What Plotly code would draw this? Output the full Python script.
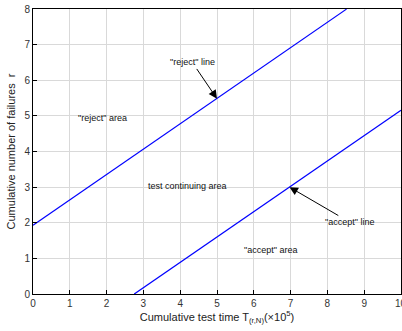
import plotly.graph_objects as go

# Data
slope = 0.712
reject_intercept = 1.93
accept_intercept = -1.96
x_reject = [0, 8.52]
x_accept = [2.75, 10]
y_reject = [reject_intercept + slope * x for x in x_reject]
y_accept = [accept_intercept + slope * x for x in x_accept]
x_ticks = [0, 1, 2, 3, 4, 5, 6, 7, 8, 9, 10]
y_ticks = [0, 1, 2, 3, 4, 5, 6, 7, 8]

fig = go.Figure()
fig.add_trace(go.Scatter(x=x_reject, y=y_reject, mode="lines",
                         line=dict(color="#0000ff", width=1.2), showlegend=False))
fig.add_trace(go.Scatter(x=x_accept, y=y_accept, mode="lines",
                         line=dict(color="#0000ff", width=1.2), showlegend=False))

font_ann = dict(family="Liberation Sans, Arial", size=9, color="#111")
texts = [
    ('"reject" area', 1.88, 4.95),
    ('test continuing area', 4.2, 3.03),
    ('"accept" area', 6.45, 1.24),
]
for t, x, y in texts:
    fig.add_annotation(x=x, y=y, text=t, showarrow=False, font=font_ann)

fig.add_annotation(x=5.0, y=5.48, ax=4.33, ay=6.5, axref="x", ayref="y",
                   text='"reject" line', showarrow=True, arrowhead=2, arrowsize=1.7,
                   arrowwidth=1, arrowcolor="black", standoff=0, font=font_ann)
fig.add_annotation(x=6.97, y=3.0, ax=8.6, ay=2.02, axref="x", ayref="y",
                   text='"accept" line', showarrow=True, arrowhead=2, arrowsize=1.7,
                   arrowwidth=1, arrowcolor="black", standoff=0, font=font_ann)

tickfont = dict(family="Liberation Sans, Arial", size=10, color="#333")
# last x tick label (partly cut off at the right edge, as in the reference)
fig.add_annotation(x=10, y=0, xref="x", yref="paper", text="10", showarrow=False,
                   yanchor="top", yshift=-2, font=tickfont)

axis_common = dict(showline=True, linecolor="black", linewidth=1, mirror=True,
                   ticks="inside", ticklen=4, tickcolor="black",
                   showgrid=True, gridcolor="#d9d9d9", gridwidth=1, zeroline=False,
                   tickfont=tickfont)

fig.update_xaxes(range=[0, 10], tickvals=x_ticks, **axis_common,
                 title=dict(text="Cumulative test time T<sub>(r,N)</sub>(×10<sup>5</sup>)",
                            font=dict(family="Liberation Sans, Arial", size=11, color="#222"),
                            standoff=4))
fig.update_yaxes(range=[0, 8], tickvals=y_ticks, **axis_common,
                 title=dict(text="Cumulative number of failures  r",
                            font=dict(family="Liberation Sans, Arial", size=11, color="#222"),
                            standoff=6))

fig.update_layout(width=402, height=331, margin=dict(l=33, r=1, t=9, b=37),
                  plot_bgcolor="white", paper_bgcolor="white")
fig.write_html("out.html")
